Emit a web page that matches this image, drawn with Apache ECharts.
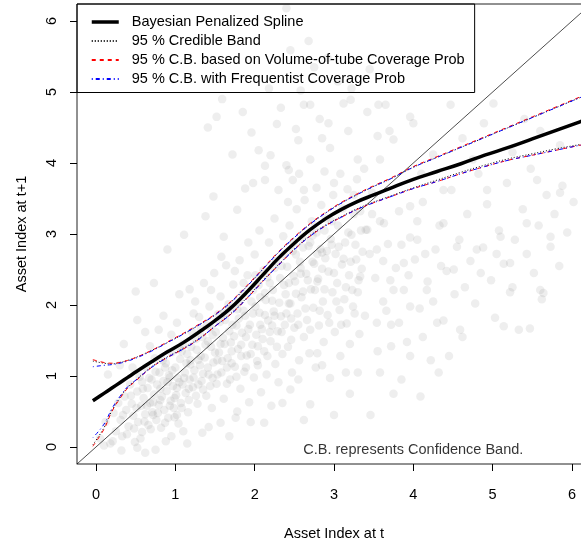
<!DOCTYPE html>
<html>
<head>
<meta charset="utf-8">
<script src="https://cdn.jsdelivr.net/npm/echarts@6/dist/echarts.min.js"></script>
<style>
html, body { margin: 0; padding: 0; background: #fff; }
#main { width: 581px; height: 540px; }
</style>
</head>
<body>
<div id="main"></div>
<script>
var obsPairs = [
	[0.05,0.12],[0.12,0.35],[0.18,0.05],[0.22,0.48],[0.25,0.22],[0.28,0.62],[0.31,0.38],[0.33,0.15],[0.36,0.71],[0.38,0.52],
	[0.41,0.29],[0.43,0.88],[0.45,0.61],[0.47,0.44],[0.49,0.07],[0.52,0.78],[0.53,0.35],[0.55,0.99],[0.57,0.58],[0.58,0.21],
	[0.60,0.69],[0.62,0.46],[0.63,1.12],[0.65,0.83],[0.66,0.31],[0.68,0.62],[0.70,0.95],[0.71,0.49],[0.73,0.74],[0.74,1.25],
	[0.76,0.38],[0.77,0.88],[0.79,0.59],[0.80,1.05],[0.82,0.27],[0.83,0.71],[0.85,0.93],[0.86,0.52],[0.88,1.18],[0.89,0.79],
	[0.91,0.41],[0.92,1.01],[0.94,0.65],[0.95,1.33],[0.97,0.86],[0.98,0.55],[1.00,1.12],[1.01,0.73],[1.03,0.97],[1.04,0.33],
	[1.06,1.24],[1.07,0.62],[1.09,0.88],[1.10,1.45],[1.12,1.05],[1.13,0.76],[1.15,1.31],[1.16,0.49],[1.18,0.95],[1.19,1.16],
	[1.21,1.62],[1.22,0.84],[1.24,1.08],[1.25,2.05],[1.27,1.37],[1.28,0.61],[1.30,1.83],[1.31,1.15],[1.33,0.93],[1.34,1.55],
	[1.36,2.31],[1.37,1.26],[1.39,0.72],[1.40,1.71],[1.42,1.02],[1.43,1.98],[1.45,1.41],[1.46,0.55],[1.48,1.19],[1.49,2.45],
	[1.51,1.62],[1.52,0.89],[1.54,1.87],[1.55,1.33],[1.57,2.12],[1.58,1.05],[1.60,1.54],[1.61,0.68],[1.63,1.79],[1.64,2.56],
	[1.66,1.25],[1.67,2.01],[1.69,0.95],[1.70,1.47],[1.72,1.72],[1.73,2.29],[1.75,1.13],[1.76,0.41],[1.78,1.94],[1.79,1.38],
	[1.81,2.63],[1.82,0.82],[1.84,1.61],[1.85,2.16],[1.87,1.06],[1.88,1.85],[1.90,1.29],[1.91,2.42],[1.93,0.63],[1.94,1.72],
	[1.96,2.05],[1.97,1.44],[1.99,0.98],[2.00,2.71],[2.02,1.58],[2.03,1.21],[2.05,2.28],[2.06,1.89],[2.08,0.77],[2.09,1.66],
	[2.11,2.49],[2.12,1.35],[2.14,2.07],[2.15,1.02],[2.17,1.78],[2.18,2.88],[2.20,1.49],[2.21,0.58],[2.23,2.21],[2.24,1.91],
	[2.26,1.17],[2.27,2.62],[2.29,1.63],[2.30,0.91],[2.32,2.38],[2.33,1.84],[2.35,1.31],[2.36,2.97],[2.38,1.72],[2.39,2.15],
	[2.41,2.54],[2.42,1.41],[2.44,3.12],[2.45,2.02],[2.47,1.05],[2.48,2.76],[2.50,1.68],[2.51,2.33],[2.53,3.35],[2.54,1.88],
	[2.56,1.22],[2.57,2.61],[2.59,2.11],[2.60,2.95],[2.62,1.55],[2.63,3.48],[2.65,2.44],[2.66,1.79],[2.68,2.83],[2.69,1.32],
	[2.71,2.22],[2.72,3.18],[2.74,1.96],[2.75,2.58],[2.77,1.12],[2.78,3.02],[2.80,2.37],[2.81,1.71],[2.83,2.79],[2.84,3.41],
	[2.86,2.05],[2.87,1.48],[2.89,2.66],[2.90,3.22],[2.92,1.86],[2.93,2.47],[2.95,0.97],[2.96,2.93],[2.98,2.18],[2.99,3.55],
	[3.01,1.62],[3.02,2.72],[3.04,2.31],[3.05,3.12],[3.07,1.93],[3.08,1.28],[3.10,2.57],[3.11,3.36],[3.13,2.08],[3.14,2.88],
	[3.16,1.74],[3.17,3.63],[3.19,2.42],[3.20,1.45],[3.22,2.99],[3.23,2.21],[3.25,3.28],[3.26,1.88],[3.28,2.64],[3.29,3.77],
	[3.31,2.35],[3.32,1.59],[3.34,3.05],[3.35,2.51],
	[1.41,4.50],[1.52,4.65],[1.59,4.90],[1.48,3.53],[1.38,3.25],[1.78,3.34],[1.61,2.96],[1.88,3.64],[1.98,3.72],[2.13,3.76],
	[2.13,3.96],[2.20,4.11],[1.96,4.43],[2.40,3.97],[2.43,3.90],[2.48,3.76],[2.45,5.59],[2.40,6.18],[2.62,4.82],[3.12,4.84],
	[2.05,4.18],[2.28,4.55],[2.55,4.32],[2.70,4.05],[2.82,4.62],[2.95,4.21],[3.05,5.15],[2.75,5.35],[2.58,5.02],[2.33,4.78],
	[2.88,3.88],[3.18,4.45],[3.30,4.05],[3.42,4.72],[3.55,4.38],[2.68,5.72],[2.92,5.48],[3.22,5.05],[2.52,4.48],[2.18,5.05],
	[1.85,4.72],[1.72,4.12],[2.62,3.62],[3.38,3.92],[3.48,3.58],[3.58,4.05],[3.65,4.82],[3.45,5.32],[3.70,4.45],[2.85,4.35],
	[3.00,3.72],[2.30,3.62],[2.70,4.82],[3.21,4.89],[2.93,4.56],[3.56,4.82],
	[3.40,3.06],[3.45,2.72],[3.52,2.38],[3.58,3.18],[3.62,2.05],[3.68,2.86],[3.72,1.72],[3.78,2.52],[3.82,3.32],[3.88,2.21],
	[3.92,1.48],[3.96,2.95],[4.02,2.64],[4.08,1.95],[4.12,3.45],[4.18,2.33],[4.22,1.22],[4.28,2.78],[4.33,3.12],[4.38,1.78],
	[4.42,2.48],[4.48,3.62],[4.52,2.15],[4.58,2.92],[4.62,1.55],[4.68,3.28],[4.72,2.62],[4.78,2.02],[4.82,3.85],[4.88,2.81],
	[4.93,3.42],[4.98,2.35],[5.03,1.82],[5.08,3.05],[5.14,2.58],[5.18,3.72],[5.22,2.18],[5.28,2.92],[5.33,1.65],[5.38,3.35],
	[5.43,2.72],[5.48,3.92],[5.52,2.45],[5.58,3.12],[5.62,2.08],[5.68,3.55],[5.73,2.82],[5.78,3.28],[5.84,2.55],[5.88,3.68],
	[5.94,3.02],[6.02,3.45],[3.55,1.35],[3.85,0.95],[4.09,0.71],[3.46,0.45],[4.45,1.28],[3.30,1.05],[3.20,0.75],
	[3.96,4.65],[4.00,4.56],[3.75,4.33],[4.47,4.82],[4.89,4.56],[5.01,4.84],[4.25,4.12],[4.62,4.35],[5.25,4.15],[5.60,4.45],
	[4.10,3.85],[4.75,4.05],[5.85,4.25],[5.40,4.62],[3.96,3.39],[4.38,3.15],[4.80,2.78],[4.51,2.50],[4.17,2.21],[5.10,2.96],
	[5.43,3.15],[5.73,2.96],[5.22,2.59],[5.60,2.21],[5.25,2.25],[5.85,3.58],[5.56,3.76],[4.93,3.62],[4.38,3.62],[4.05,2.92],
	[3.88,2.59],[3.75,2.21],[3.54,1.75],[3.96,1.98],[4.30,1.75],[4.59,1.65],[5.14,1.70],[5.47,1.67],[3.96,1.28],[5.64,2.17],
	[3.42,3.06],[3.54,2.78],[3.33,2.40],[3.63,3.15],
	[0.58,0.92],[0.72,0.45],[0.87,1.12],[0.99,0.69],[1.08,1.35],[1.17,0.82],[1.26,1.52],[1.35,1.03],[1.44,1.69],[1.53,1.22],
	[1.62,1.88],[1.71,1.35],[1.80,2.04],[1.89,1.55],[1.98,2.21],[2.07,1.72],[2.16,2.39],[2.25,1.85],[2.34,2.55],[2.43,2.02],
	[2.52,2.71],[2.61,2.19],[2.70,2.88],[2.79,2.33],[2.88,3.05],[0.64,0.58],[0.81,0.82],[0.93,0.98],[1.05,0.91],[1.19,1.22],
	[1.32,1.28],[1.41,1.49],[1.57,1.45],[1.68,1.63],[1.77,1.71],[1.86,1.92],[2.01,1.98],[2.13,2.17],[2.22,2.06],[2.37,2.28],
	[2.49,2.41],[2.58,2.52],[2.73,2.61],[2.85,2.74],[2.97,2.85],[1.02,0.45],[1.29,0.88],[1.47,0.97],[1.65,1.12],[1.83,1.28],
	[2.04,1.42],[2.19,1.62],[2.46,1.81],
	[0.52,1.79],[0.73,2.31],[0.50,2.19],[0.90,2.78],[1.11,2.99],[0.35,1.45],[0.62,1.62],[0.85,1.85],[1.05,2.15],[0.95,1.58],
	[0.30,1.15],[0.15,1.02],
	[0.21,0.08],[0.52,-0.01],[0.75,-0.04],[1.34,0.20],[1.57,0.34],[1.78,0.50],[2.12,0.34],[2.45,0.81],[3.00,0.45],[0.95,0.15],
	[1.15,0.05],[2.70,0.60],[2.79,1.32],
	[0.34,0.45],[0.39,0.18],[0.44,0.72],[0.48,0.26],[0.51,0.55],[0.56,0.12],[0.59,0.82],[0.61,0.36],[0.67,0.97],[0.69,0.25],
	[0.72,0.63],[0.75,1.06],[0.78,0.48],[0.81,0.66],[0.84,1.22],[0.87,0.34],[0.90,0.91],[0.93,0.58],[0.96,1.08],[0.99,0.42],
	[1.02,0.83],[1.05,1.39],[1.08,0.55],[1.11,0.97],[1.14,1.18],[1.17,0.66],[1.20,1.41],[1.23,0.98],[1.26,0.72],[1.29,1.23],
	[1.32,1.66],[1.35,0.81],[1.38,1.44],[1.41,1.12],[1.44,0.86],[1.47,1.58],[1.50,1.33],[1.53,1.02],[1.56,1.76],[1.59,1.21],
	[1.62,1.45],[1.65,0.89],[1.68,1.95],[1.71,1.18],[1.74,1.56],[1.77,0.99],[1.80,1.81],[1.83,1.44],[1.86,2.31],[1.89,1.12],
	[1.92,1.66],[1.95,1.31],[1.98,1.88],[2.01,2.42],[2.04,1.15],[2.07,2.11],[2.10,1.52],[2.13,1.86],[2.16,1.28],[2.19,2.31],
	[2.22,1.71],[2.25,2.52],[2.28,1.41],[2.31,2.03],[2.34,1.62],[2.37,2.71],[2.40,1.88],[2.43,2.31],[2.46,1.51],[2.49,2.88],
	[2.52,2.16],[2.55,1.72],[2.58,2.44],[2.61,2.81],[2.64,1.95],[2.67,2.35],[2.70,1.65],[2.73,2.98],[2.76,2.21],[2.79,2.72],
	[2.82,1.92],[2.85,2.51],[2.88,2.22],[2.91,2.76],[2.94,1.75],[2.97,3.18],[3.00,2.45],[3.03,2.05],[3.06,2.82],[3.09,1.72],
	[3.12,2.65],[3.15,2.25],[3.18,3.02],[3.21,2.61],[3.24,1.98],[3.27,2.85],[3.30,2.18],[3.33,3.32],[3.36,2.75],[3.39,1.85],
	[0.46,1.12],[0.68,1.42],[0.79,1.65],[1.02,1.75],[1.18,2.22],[1.23,1.88],[1.45,2.21],[1.58,2.68],[1.75,2.48],[1.92,2.88],
	[2.06,3.05],[2.25,3.22],[2.42,3.45],[2.56,3.85],[2.78,3.65],[3.08,3.85],[3.25,3.55],[3.48,3.28],[3.62,2.62],[3.71,2.35],
	[3.85,2.85],[3.94,2.42],[4.05,3.18],[4.15,2.72],[4.25,2.05],[4.35,2.55],[4.55,2.82],[4.65,2.25],[4.85,2.45],[5.05,2.72],
	[3.58,1.05],[3.72,1.42],[3.66,1.92],[3.82,1.75],[4.12,1.55],[4.32,1.05],[2.55,0.95],[2.85,1.15],[3.15,1.05],[2.35,0.62],
	[1.95,0.35],[2.62,0.38],[1.68,0.15],[1.42,0.28],[1.10,0.22],[0.88,0.08],[0.62,-0.08],[0.32,-0.05],[0.10,0.02],[3.75,0.75]
];

// evaluation grid for the fitted curve and bands
var xGrid    = [-0.04, 0.1, 0.2, 0.3, 0.4, 0.5, 0.7, 0.9, 1.1, 1.3, 1.5, 1.7, 1.9, 2.1, 2.3, 2.5, 2.7, 2.9, 3.1, 3.3, 3.5, 3.7, 4.0, 4.3, 4.6, 4.9, 5.2, 5.5, 5.8, 6.1, 6.2];
var splineFit = [0.65, 0.755, 0.83, 0.905, 0.98, 1.055, 1.20, 1.34, 1.47, 1.62, 1.78, 1.96, 2.18, 2.42, 2.66, 2.87, 3.06, 3.22, 3.35, 3.46, 3.55, 3.64, 3.77, 3.88, 3.99, 4.11, 4.22, 4.34, 4.46, 4.58, 4.62];
var credLow  = [0.03, 0.27, 0.51, 0.69, 0.84, 0.94, 1.13, 1.27, 1.39, 1.53, 1.70, 1.88, 2.10, 2.34, 2.57, 2.79, 2.98, 3.13, 3.25, 3.36, 3.45, 3.53, 3.65, 3.76, 3.87, 3.97, 4.06, 4.13, 4.20, 4.26, 4.28];
var credHigh = [1.21, 1.18, 1.17, 1.19, 1.22, 1.26, 1.36, 1.47, 1.59, 1.72, 1.86, 2.04, 2.26, 2.50, 2.74, 2.95, 3.14, 3.30, 3.44, 3.56, 3.67, 3.77, 3.94, 4.08, 4.22, 4.36, 4.50, 4.64, 4.78, 4.92, 4.96];
var tubeLow  = [0.01, 0.25, 0.50, 0.68, 0.83, 0.93, 1.12, 1.26, 1.38, 1.52, 1.70, 1.87, 2.09, 2.33, 2.56, 2.78, 2.97, 3.12, 3.24, 3.35, 3.44, 3.52, 3.64, 3.74, 3.85, 3.95, 4.04, 4.11, 4.18, 4.25, 4.27];
var tubeHigh = [1.23, 1.19, 1.18, 1.19, 1.22, 1.26, 1.36, 1.48, 1.60, 1.73, 1.87, 2.05, 2.27, 2.51, 2.75, 2.96, 3.15, 3.31, 3.45, 3.57, 3.68, 3.78, 3.95, 4.09, 4.23, 4.37, 4.51, 4.65, 4.79, 4.93, 4.97];
var freqLow  = [0.13, 0.32, 0.54, 0.71, 0.85, 0.94, 1.12, 1.26, 1.38, 1.52, 1.70, 1.87, 2.09, 2.33, 2.56, 2.78, 2.97, 3.12, 3.24, 3.35, 3.44, 3.52, 3.64, 3.74, 3.85, 3.95, 4.04, 4.11, 4.18, 4.25, 4.27];
var freqHigh = [1.13, 1.15, 1.16, 1.18, 1.21, 1.25, 1.35, 1.47, 1.59, 1.72, 1.86, 2.04, 2.26, 2.50, 2.74, 2.95, 3.14, 3.30, 3.44, 3.56, 3.67, 3.77, 3.94, 4.08, 4.22, 4.36, 4.50, 4.64, 4.78, 4.92, 4.96];

// 45 degree reference line
var refLine = [[-1, -1], [7, 7]];
var tickValues = [0, 1, 2, 3, 4, 5, 6];

var legendNames = [
	'Bayesian Penalized Spline',
	'95 % Credible Band',
	'95 % C.B. based on Volume-of-tube Coverage Prob',
	'95 % C.B. with Frequentist Coverage Prob'
];
var noteText = 'C.B. represents Confidence Band.';
var notePos = [4, 0];

var FONT = "'Liberation Sans', Arial, sans-serif";

function zip(xs, ys) {
	var out = [];
	for (var i = 0; i < xs.length; i++) {
		out.push([xs[i], ys[i]]);
	}
	return out;
}

function bandSeries(name, ys, color, dash, width) {
	return {
		name: name,
		type: 'line',
		data: zip(xGrid, ys),
		smooth: 0.4,
		symbol: 'none',
		silent: true,
		z: 4,
		lineStyle: { color: color, width: width, type: dash },
		itemStyle: { color: color }
	};
}

function axisBase(name, gap) {
	return {
		type: 'value',
		min: -0.24,
		max: 6.24,
		name: name,
		nameLocation: 'middle',
		nameGap: gap,
		nameTextStyle: { fontFamily: FONT, fontSize: 14.5, color: '#000' },
		axisLine: { show: false, onZero: false },
		axisTick: {
			show: true,
			inside: false,
			length: 7,
			customValues: tickValues,
			lineStyle: { color: '#000', width: 1 }
		},
		splitLine: { show: false }
	};
}

var myChart = echarts.init(document.getElementById('main'), null, { renderer: 'canvas' });

var xAxis = axisBase('Asset Index at t', 62);
xAxis.axisLabel = {
	customValues: tickValues,
	margin: 23,
	fontFamily: FONT,
	fontSize: 14.5,
	color: '#000'
};

var yAxis = axisBase('Asset Index at t+1', 48);
yAxis.nameRotate = 90;
yAxis.axisLabel = {
	customValues: tickValues,
	rotate: 90,
	margin: 18,
	fontFamily: FONT,
	fontSize: 14.5,
	color: '#000'
};

var option = {
	backgroundColor: '#ffffff',
	animation: false,
	textStyle: { fontFamily: FONT },
	grid: {
		left: 77,
		top: 4,
		width: 514,
		height: 460,
		outerBoundsMode: 'none',
		containLabel: false,
		show: true,
		borderColor: '#222',
		borderWidth: 1,
		backgroundColor: 'transparent'
	},
	legend: {
		orient: 'vertical',
		left: 77,
		top: 4,
		data: [
			{ name: legendNames[0], lineStyle: { width: 3.5 } },
			legendNames[1],
			legendNames[2],
			legendNames[3]
		],
		padding: [10.5, 10, 6, 13],
		itemWidth: 27,
		itemHeight: 12,
		itemGap: 4,
		borderColor: '#000',
		borderWidth: 1,
		borderRadius: 0,
		selectedMode: false,
		itemStyle: { opacity: 0 },
		textStyle: {
			fontFamily: FONT,
			fontSize: 14.5,
			color: '#000',
			padding: [0, 0, 0, 8]
		}
	},
	xAxis: xAxis,
	yAxis: yAxis,
	series: [
		{
			name: 'obs',
			type: 'scatter',
			data: obsPairs,
			symbol: 'circle',
			symbolSize: 8.5,
			silent: true,
			z: 1,
			itemStyle: { color: 'rgba(110,110,110,0.15)' }
		},
		{
			name: 'diag',
			type: 'line',
			data: refLine,
			symbol: 'none',
			silent: true,
			z: 2,
			lineStyle: { color: '#000', width: 0.7 }
		},
		bandSeries(legendNames[1], credLow, '#000000', [1, 2], 1),
		bandSeries(legendNames[1], credHigh, '#000000', [1, 2], 1),
		bandSeries(legendNames[2], tubeLow, '#ff0000', [4, 4], 1),
		bandSeries(legendNames[2], tubeHigh, '#ff0000', [4, 4], 1),
		bandSeries(legendNames[3], freqLow, '#0000ff', [1, 3, 4, 3], 1),
		bandSeries(legendNames[3], freqHigh, '#0000ff', [1, 3, 4, 3], 1),
		{
			name: legendNames[0],
			type: 'line',
			data: zip(xGrid, splineFit),
			smooth: 0.4,
			symbol: 'none',
			silent: true,
			z: 5,
			lineStyle: { color: '#000', width: 3.5 },
			itemStyle: { color: '#000' }
		},
		{
			name: 'note',
			type: 'scatter',
			data: [notePos],
			symbolSize: 0,
			silent: true,
			z: 6,
			label: {
				show: true,
				position: 'inside',
				offset: [0, 3],
				formatter: noteText,
				fontFamily: FONT,
				fontSize: 14.5,
				color: '#000'
			}
		}
	]
};

myChart.setOption(option);
</script>
</body>
</html>
